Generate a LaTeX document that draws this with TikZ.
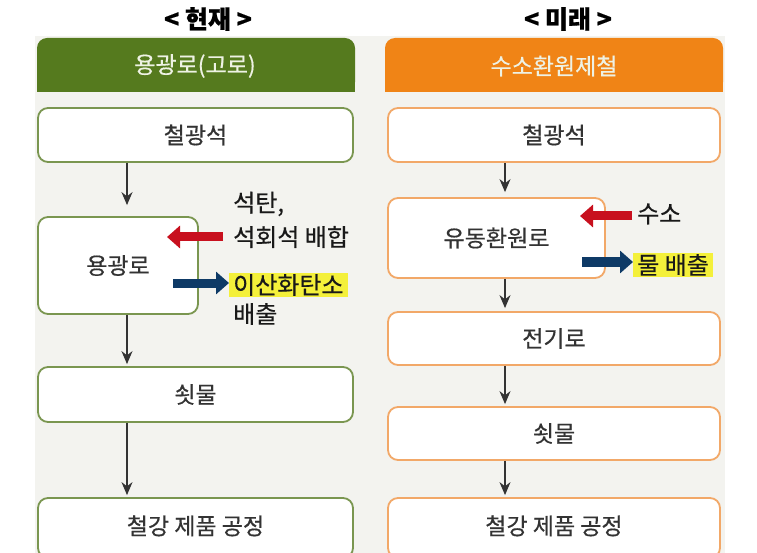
\documentclass[tikz,border=0pt]{standalone}
\usepackage{fontspec}
\setmainfont{Noto Sans CJK KR}[FakeBold=0.5]
\usetikzlibrary{arrows.meta}
\definecolor{bg}{HTML}{F3F3EF}
\definecolor{gHead}{HTML}{557A1E}
\definecolor{gLine}{HTML}{7A9650}
\definecolor{oHead}{HTML}{F08416}
\definecolor{oLine}{HTML}{F2A868}
\definecolor{hdText}{HTML}{EEF2E4}
\definecolor{txt}{HTML}{333333}
\definecolor{redA}{HTML}{C8101E}
\definecolor{blueA}{HTML}{0E3A66}
\definecolor{hl}{HTML}{F4F03A}
\tikzset{
  boxg/.style={draw=gLine, line width=1.8pt, fill=white, rounded corners=10pt, inner sep=0pt, font=\fontsize{23}{25}\selectfont, text=txt},
  boxo/.style={boxg, draw=oLine},
  hdtext/.style={font=\fontsize{23}{25}\selectfont, text=hdText, inner sep=0pt},
  ttl/.style={font=\fontsize{25}{27}\selectfont\bfseries, text=black, inner sep=0pt},
  side/.style={font=\fontsize{24}{26}\selectfont, text=black!90, inner sep=0pt, anchor=west},
  hlbox/.style={side, fill=hl, inner xsep=4pt, inner ysep=1pt},
  flow/.style={draw=black!80, line width=1.4pt, -{Stealth[length=13pt, width=11pt]}},
  inarrow/.style={draw=redA, line width=9pt, -{Triangle[length=13pt, width=22pt]}},
  outarrow/.style={draw=blueA, line width=9pt, -{Triangle[length=13pt, width=22pt]}},
}
\begin{document}
\begin{tikzpicture}[x=1pt, y=-1pt]
\useasboundingbox (0,0) rectangle (757,553);
\fill[white] (0,0) rectangle (757,553);
\fill[bg] (35,36) rectangle (725,553);
% titles
\node[ttl] (t1) at (208,19) {< 현재 >};
\node[ttl] (t2) at (568,19) {< 미래 >};
% headers
\fill[gHead, rounded corners=10pt] (37,92) -- (37,38) -- (355,38) -- (355,92) [sharp corners] -- cycle;
\fill[gHead] (37,70) rectangle (355,92);
\fill[oHead, rounded corners=10pt] (385,92) -- (385,38) -- (723,38) -- (723,92) [sharp corners] -- cycle;
\fill[oHead] (385,70) rectangle (723,92);
\node[hdtext] (h1) at (195,66) {용광로(고로)};
\node[hdtext] (h2) at (554,66) {수소환원제철};
% left column
\node[boxg, minimum width=315pt, minimum height=54pt] (b1) at (195.5,135) {철광석};
\node[boxg, minimum width=160pt, minimum height=97pt] (b2) at (118,265.5) {용광로};
\node[boxg, minimum width=315pt, minimum height=55pt] (b3) at (195.5,394.5) {쇳물};
\node[boxg, minimum width=315pt, minimum height=60pt, text depth=6pt] (b4) at (195.5,528) {철강 제품 공정};
\coordinate (lx) at (127,0);
\draw[flow, shorten >=11pt] (b1.south -| lx) -- (b2.north -| lx);
\draw[flow, shorten >=2pt] (b2.south -| lx) -- (b3.north -| lx);
\draw[flow, shorten >=2pt] (b3.south -| lx) -- (b4.north -| lx);
% left side inputs/outputs
\node[side] (s1) at (233,204) {석탄,};
\node[side] (s2) at (233,237) {석회석 배합};
\node[hlbox] (s3) at (229,285) {이산화탄소};
\node[side] (s4) at (233,314) {배출};
\coordinate (r1a) at (223,237);
\coordinate (r1b) at (167,237);
\draw[inarrow] (r1a) -- (r1b);
\coordinate (bl1a) at (173,283);
\draw[outarrow] (bl1a) -- (bl1a -| s3.west);
% right column
\node[boxo, minimum width=332pt, minimum height=54pt] (c1) at (554,135) {철광석};
\node[boxo, minimum width=217pt, minimum height=80pt] (c2) at (496.5,238) {유동환원로};
\node[boxo, minimum width=332pt, minimum height=53pt] (c3) at (554,338.5) {전기로};
\node[boxo, minimum width=332pt, minimum height=53pt] (c4) at (554,433.5) {쇳물};
\node[boxo, minimum width=332pt, minimum height=60pt, text depth=6pt] (c5) at (554,528) {철강 제품 공정};
\coordinate (rx) at (505,0);
\draw[flow, shorten >=5pt] (c1.south -| rx) -- (c2.north -| rx);
\draw[flow, shorten >=3pt] (c2.south -| rx) -- (c3.north -| rx);
\draw[flow, shorten >=2pt] (c3.south -| rx) -- (c4.north -| rx);
\draw[flow, shorten >=2pt] (c4.south -| rx) -- (c5.north -| rx);
\node[side] (s5) at (637,214) {수소};
\node[hlbox] (s6) at (633,265) {물 배출};
\coordinate (r2a) at (632,216);
\coordinate (r2b) at (580,216);
\draw[inarrow] (r2a) -- (r2b);
\coordinate (bl2a) at (582,262);
\draw[outarrow] (bl2a) -- (bl2a -| s6.west);
\end{tikzpicture}
\end{document}
